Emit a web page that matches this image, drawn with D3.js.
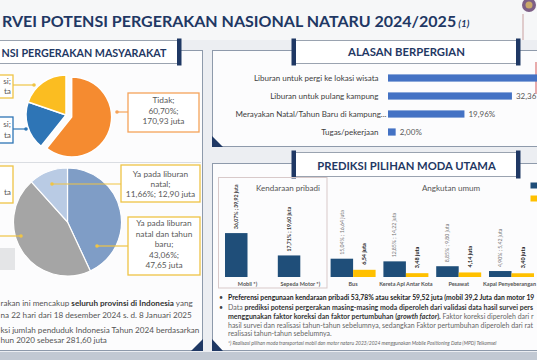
<!DOCTYPE html>
<html><head><meta charset="utf-8">
<script src="https://cdn.jsdelivr.net/npm/d3@7"></script>
<style>html,body{margin:0;padding:0;background:#eef0f3;overflow:hidden}svg{display:block}</style>
</head><body><svg id="c" width="537" height="360"></svg>
<script>
// ---------------- DATA ----------------
const titleVisible = "RVEI POTENSI PERGERAKAN NASIONAL NATARU 2024/2025";
const titleNote = "(1)";
const leftTitleVisible = "NSI PERGERAKAN MASYARAKAT";
const reasonTitle = "ALASAN BERPERGIAN";
const modeTitle = "PREDIKSI PILIHAN MODA UTAMA";

const pie1Cats = ["Tidak", "Ya, dalam provinsi", "Ya, antar provinsi"];
const pie1Pct = [60.70, 19.55, 19.75];
const pie1Juta = [170.93, 55.05, 55.62];

const pie2Cats = ["Ya pada liburan natal dan tahun baru", "Ya pada liburan tahun baru", "Ya pada liburan natal"];
const pie2Pct = [43.06, 45.28, 11.66];
const pie2Juta = [47.65, 50.11, 12.90];

const reasonCats = ["Liburan untuk pergi ke lokasi wisata", "Liburan untuk pulang kampung", "Merayakan Natal/Tahun Baru di kampung...", "Tugas/pekerjaan"];
const reasonPct = [45.68, 32.36, 19.96, 2.00];

const modeGroups = ["Kendaraan pribadi", "Angkutan umum"];
const modeCats = ["Mobil *)", "Sepeda Motor *)", "Bus", "Kereta Api Antar Kota", "Pesawat", "Kapal Penyeberangan"];
const modePct = [36.07, 17.71, 15.04, 12.85, 8.85, 4.90];
const modeJuta = [39.92, 19.60, 16.64, 14.22, 9.80, 5.42];
const modeReal = [null, null, 6.54, 3.48, 4.14, 3.40];

const leftNotes = [
  [["rakan ini mencakup ", false], ["seluruh provinsi di Indonesia", true], [" yang", false]],
  [["na 22 hari dari 18 desember 2024 s. d. 8 Januari 2025", false]],
  [["ksi jumlah penduduk Indonesia Tahun 2024 berdasarkan", false]],
  [["hun 2020 sebesar 281,60 juta", false]]
];
const modeNotes = [
  [["Preferensi pengunaan kendaraan pribadi 53,78% atau sekitar 59,52 juta (mobil 39,2 Juta dan motor 19,6 Juta)", "b"]],
  [["Data ", "n"], ["prediksi potensi pergerakan masing-masing moda diperoleh dari validasi data hasil survei persepsi", "b"]],
  [["menggunakan faktor koreksi dan faktor pertumbuhan (", "b"], ["growth factor", "bi"], [").", "b"], [" Faktor koreksi diperoleh dari rata-rata", "n"]],
  [["hasil survei dan realisasi tahun-tahun sebelumnya, sedangkan Faktor pertumbuhan diperoleh dari rata-rata", "n"]],
  [["realisasi tahun-tahun sebelumnya.", "n"]]
];
const footnote = "*) Realisasi pilihan moda transportasi mobil dan motor nataru 2023/2024 menggunakan Mobile Positioning Data (MPD) Telkomsel";

// ---------------- HELPERS ----------------
const W = 537, H = 360;
const NAVY = "#1f3864";
const FAM = "Lato";
const svg = d3.select("#c").style("font-family", FAM + ", 'Open Sans', sans-serif");
const loc = d3.formatLocale({decimal: ",", thousands: ".", grouping: [3], currency: ["", ""]});
const f2 = loc.format(".2f");
const ctx = document.createElement("canvas").getContext("2d");
function tw(s, size, weight, style) { ctx.font = `${style || "normal"} ${weight || "normal"} ${size}px ${FAM}`; return ctx.measureText(s).width; }
function fit(s, target, weight, style) { return 10 * target / tw(s, 10, weight, style); }
// trim a list of [text, style] segments so the line fits in maxW (the reference cuts it at the page edge)
function trimSegs(segs, size, maxW) {
  const out = [];
  let used = 0;
  for (const [s, st] of segs) {
    const wgt = st.includes("b") ? "bold" : "normal", sty = st.includes("i") ? "italic" : "normal";
    let t = s;
    while (t.length && used + tw(t, size, wgt, sty) > maxW) t = t.slice(0, -1);
    if (t.length) out.push([t, st]);
    used += tw(t, size, wgt, sty);
    if (t.length < s.length) break;
  }
  return out;
}
function trimStr(s, size, maxW, wgt) { let t = s; while (t.length && tw(t, size, wgt) > maxW) t = t.slice(0, -1); return t; }

// ---------------- BACKGROUND ----------------
svg.append("rect").attr("width", W).attr("height", H).attr("fill", "#eceef2");
svg.append("rect").attr("width", W).attr("height", 40).attr("fill", "#f6f7f8");
svg.append("rect").attr("y", 352).attr("width", W).attr("height", 8).attr("fill", "#c2c9d3");

const PSTROKE = "#8e9aab";
svg.append("rect").attr("x", -5).attr("y", 50.5).attr("width", 207.5).attr("height", 300).attr("fill", "#fcfcfd").attr("stroke", PSTROKE);
svg.append("rect").attr("x", 212.5).attr("y", 50.5).attr("width", 330).attr("height", 96).attr("fill", "#fcfcfd").attr("stroke", PSTROKE);
svg.append("rect").attr("x", 212.5).attr("y", 163.5).attr("width", 330).attr("height", 187).attr("fill", "#fcfcfd").attr("stroke", PSTROKE);
svg.append("line").attr("x1", 0).attr("x2", 201).attr("y1", 162.5).attr("y2", 162.5).attr("stroke", "#dadde2");
svg.append("path").attr("d", "M203,339 L203,351 L191,351 Z").attr("fill", NAVY);
svg.append("path").attr("d", "M212,136 L212,147 L223,147 Z").attr("fill", NAVY);
svg.append("path").attr("d", "M212,339 L212,351 L223,351 Z").attr("fill", NAVY);
svg.append("line").attr("x1", 536).attr("x2", 536).attr("y1", 62).attr("y2", 94).attr("stroke", "#d45a5a").attr("stroke-width", 1);

// logo
svg.append("circle").attr("cx", 529).attr("cy", 5).attr("r", 7).attr("fill", "#7d5f86");
svg.append("circle").attr("cx", 529).attr("cy", 5).attr("r", 3.5).attr("fill", "#c9a86a");
svg.append("line").attr("x1", 523).attr("x2", 523).attr("y1", 14).attr("y2", 40).attr("stroke", "#c9a0a0");

// ---------------- TITLES ----------------
const tSize = fit(titleVisible, 455, "bold");
const title = svg.append("text").attr("x", 2).attr("y", 26.5)
  .attr("fill", NAVY).attr("font-weight", "bold").attr("font-size", tSize);
title.append("tspan").text(titleVisible);
title.append("tspan").text(" " + titleNote).attr("font-style", "italic").attr("font-size", tSize * 0.62);

function titleBox(x, y, w, h, leftBar) {
  svg.append("rect").attr("x", x).attr("y", y).attr("width", w).attr("height", h).attr("fill", "#fff").attr("stroke", "#9aa3b0");
  if (leftBar) svg.append("rect").attr("x", x - 1.5).attr("y", y - 2).attr("width", 4.5).attr("height", h + 4).attr("fill", NAVY);
  svg.append("rect").attr("x", x + w - 3).attr("y", y - 2).attr("width", 4.5).attr("height", h + 4).attr("fill", NAVY);
}
titleBox(-10, 40.5, 190, 23, false);
titleBox(293, 40.5, 226, 23, true);
titleBox(293, 152.5, 226, 24, true);

svg.append("text").attr("x", 1.5).attr("y", 56.5)
  .attr("fill", NAVY).attr("font-weight", "bold").attr("font-size", fit(leftTitleVisible, 165, "bold")).text(leftTitleVisible);
svg.append("text").attr("x", 406.5).attr("y", 55.8).attr("text-anchor", "middle")
  .attr("fill", NAVY).attr("font-weight", "bold").attr("font-size", fit(reasonTitle, 117, "bold")).text(reasonTitle);
svg.append("text").attr("x", 406.5).attr("y", 169.8).attr("text-anchor", "middle")
  .attr("fill", NAVY).attr("font-weight", "bold").attr("font-size", fit(modeTitle, 179, "bold")).text(modeTitle);

// ---------------- PIE 1 ----------------
const pieGen = d3.pie().sort(null).startAngle(0).endAngle(2 * Math.PI);
const c1 = [66, 115], r1 = 40;
const arc1 = d3.arc().innerRadius(0).outerRadius(r1);
const pie1Colors = ["#f58b30", "#2e75b6", "#fbbd21"];
const pie1Border = ["#f5a35a", "#2e75b6", "#efc445"];
pieGen(pie1Pct).forEach((a, i) => {
  const off = i === 0 ? 6 : 0, mid = (a.startAngle + a.endAngle) / 2;
  svg.append("path").attr("d", arc1(a))
    .attr("transform", `translate(${c1[0] + Math.sin(mid) * off},${c1[1] - Math.cos(mid) * off})`)
    .attr("fill", pie1Colors[i]).attr("stroke", "#fff").attr("stroke-width", 1.5);
});
function connector(x1, x2, y, col) {
  svg.append("line").attr("x1", x1).attr("x2", x2).attr("y1", y).attr("y2", y).attr("stroke", col).attr("stroke-width", 1.2);
  svg.append("circle").attr("cx", x1).attr("cy", y).attr("r", 1.8).attr("fill", col);
}
function labelBox(x, y, w, h, col) {
  svg.append("rect").attr("x", x).attr("y", y).attr("width", w).attr("height", h).attr("fill", "#fff").attr("stroke", col).attr("stroke-width", 1.3);
}
function lines(x, ys, arr, anchor, size) {
  arr.forEach((s, k) => { if (s) svg.append("text").attr("x", x).attr("y", ys[k]).attr("text-anchor", anchor)
    .attr("font-size", size).attr("fill", "#595959").text(s); });
}
const lblSize = fit("170,93 juta", 42);
// only the right-hand end of the left-edge labels is visible in the reference
const tail = (s, n) => s.slice(-n);
connector(117, 128, 112, pie1Border[0]);
labelBox(128, 93, 71, 39, pie1Border[0]);
lines(163.5, [103, 113.5, 124], [pie1Cats[0] + ";", f2(pie1Pct[0]) + "%;", f2(pie1Juta[0]) + " juta"], "middle", lblSize);
connector(34, 13, 85, pie1Border[2]);
labelBox(-70, 75, 83, 23, pie1Border[2]);
lines(11, [84, 94], [tail(pie1Cats[2] + ";", 3), tail(f2(pie1Juta[2]) + " juta", 2)], "end", lblSize);
connector(26, 13, 129, pie1Border[1]);
labelBox(-70, 117, 83, 26, pie1Border[1]);
lines(11, [127, 137.5], [tail(pie1Cats[1] + ";", 3), tail(f2(pie1Juta[1]) + " juta", 2)], "end", lblSize);

// ---------------- PIE 2 ----------------
const c2 = [67.5, 222], r2 = 54;
const arc2 = d3.arc().innerRadius(0).outerRadius(r2);
const pie2Colors = ["#7f9dc6", "#a5a5a5", "#b9cbe4"];
pieGen(pie2Pct).forEach((a, i) => {
  svg.append("path").attr("d", arc2(a)).attr("transform", `translate(${c2[0]},${c2[1]})`)
    .attr("fill", pie2Colors[i]).attr("stroke", "#fff").attr("stroke-width", 1.2);
});
const YB = "#efc445";
svg.append("rect").attr("x", -2).attr("y", 248).attr("width", 17).attr("height", 22).attr("fill", "#e4e5e7");
connector(52, 121, 184, YB);
labelBox(121, 165, 79, 37, YB);
lines(160.5, [177, 186.5, 196.5], ["Ya pada liburan", "natal;", f2(pie2Pct[2]) + "%; " + f2(pie2Juta[2]) + " juta"], "middle", lblSize);
connector(97, 128, 246, YB);
labelBox(128, 217, 72, 58, YB);
lines(164, [226, 236.5, 247, 257.5, 268], ["Ya pada liburan", "natal dan tahun", "baru;", f2(pie2Pct[0]) + "%;", f2(pie2Juta[0]) + " juta"], "middle", lblSize);
labelBox(-80, 166, 93, 37, YB);
lines(11, [176, 185.5, 195], ["", "", tail(f2(pie2Juta[1]) + " juta", 2)], "end", lblSize);
connector(21, -2, 236, YB);

// left notes
const lnSize = fit(leftNotes[1][0][0], 192);
[306, 317.5, 333, 342.5].forEach((y, i) => {
  const t = svg.append("text").attr("x", 0.5).attr("y", y).attr("font-size", lnSize).attr("fill", "#555");
  leftNotes[i].forEach(([s, b]) => t.append("tspan").text(s).attr("font-weight", b ? "bold" : "normal").attr("fill", b ? "#333" : "#555"));
});

// ---------------- REASONS BAR ----------------
const xr = d3.scaleLinear().domain([0, 100]).range([388, 771]);
const yr = d3.scaleBand().domain(reasonCats).range([69, 141]).paddingInner(0.6).paddingOuter(0.3);
const rcSize = fit(reasonCats[0], 125);
reasonCats.forEach((c, i) => {
  const yc = yr(c) + yr.bandwidth() / 2;
  svg.append("rect").attr("x", xr(0)).attr("y", yr(c)).attr("width", xr(reasonPct[i]) - xr(0)).attr("height", yr.bandwidth()).attr("fill", "#4472c4");
  svg.append("text").attr("x", c.endsWith("...") ? 386.5 : 378.5).attr("y", yc + 2.8).attr("text-anchor", "end")
    .attr("font-size", rcSize).attr("fill", "#404040").text(c);
  const lx = xr(reasonPct[i]) + 4;
  const lab = trimStr(f2(reasonPct[i]) + "%", rcSize, W - lx);
  if (lab) svg.append("text").attr("x", lx).attr("y", yc + 2.8)
    .attr("font-size", rcSize).attr("fill", "#595959").text(lab);
});

// ---------------- MODE BARS ----------------
svg.append("rect").attr("x", 218.5).attr("y", 177.5).attr("width", 108.5).attr("height", 110.5).attr("fill", "none").attr("stroke", "#d8c9c9");
const gSize = fit(modeGroups[0], 64);
svg.append("text").attr("x", 288).attr("y", 191).attr("text-anchor", "middle").attr("font-size", gSize).attr("fill", "#555").text(modeGroups[0]);
svg.append("text").attr("x", 451).attr("y", 191).attr("text-anchor", "middle").attr("font-size", gSize).attr("fill", "#555").text(modeGroups[1]);

const xm = d3.scaleBand().domain(modeCats).range([221.1, 537.9]).paddingInner(0.148).paddingOuter(0.074);
const xs = d3.scaleBand().domain(["pred", "real"]).range([0, xm.bandwidth()]);
const ym = d3.scaleLinear().domain([0, 40]).range([277, 233]);
const catSize = fit("Kereta Api Antar Kota", 54, "bold");
const vSize = 5.2;
modeCats.forEach((c, i) => {
  const x0 = xm(c) + xs("pred"), bw = xs.bandwidth();
  svg.append("rect").attr("x", x0).attr("y", ym(modeJuta[i])).attr("width", bw).attr("height", ym(0) - ym(modeJuta[i])).attr("fill", "#1f4e79");
  const priv = i < 2;
  svg.append("text").attr("transform", `translate(${x0 + bw / 2 + vSize * 0.35},${ym(modeJuta[i]) - 4}) rotate(-90)`)
    .attr("font-size", vSize).attr("font-weight", priv ? "bold" : "normal").attr("fill", priv ? "#333" : "#777")
    .text(f2(modePct[i]) + "% ; " + f2(modeJuta[i]) + " juta");
  if (modeReal[i] != null) {
    const x1 = xm(c) + xs("real");
    svg.append("rect").attr("x", x1).attr("y", ym(modeReal[i])).attr("width", bw).attr("height", ym(0) - ym(modeReal[i])).attr("fill", "#ffc000");
    svg.append("text").attr("transform", `translate(${x1 + bw / 2 + vSize * 0.35},${ym(modeReal[i]) - 5}) rotate(-90)`)
      .attr("font-size", vSize + 0.3).attr("font-weight", "bold").attr("fill", "#222")
      .text(f2(modeReal[i]) + " juta");
  }
  const cx = Math.min(xm(c) + xm.bandwidth() / 2, W - 1 - tw(c, catSize, "bold") / 2);
  svg.append("text").attr("x", cx).attr("y", 286).attr("text-anchor", "middle")
    .attr("font-size", catSize).attr("font-weight", "bold").attr("fill", "#555").text(c);
});
// legend keys (their labels lie beyond the right edge in the reference)
["#1f4e79", "#ffc000"].forEach((col, i) => {
  svg.append("rect").attr("x", 530.5).attr("y", 182.5 + i * 13).attr("width", 8).attr("height", 6).attr("fill", col);
});

// mode notes
const nSize = fit(modeNotes[3][0][0].slice(0, 99), 309);
const b1Size = fit("Preferensi pengunaan kendaraan pribadi 53,78% atau sekitar 59,52 juta (mobil 39,2 Juta dan motor 19,", 309, "bold");
const noteYs = [300, 309.5, 319, 327.8, 335.6];
noteYs.forEach((y, i) => {
  if (i < 2) svg.append("text").attr("x", 219).attr("y", y).attr("font-size", 7).attr("fill", "#444").text("•");
  const size = i === 0 ? b1Size : nSize;
  const t = svg.append("text").attr("x", 228).attr("y", y).attr("font-size", size);
  trimSegs(modeNotes[i], size, W - 229).forEach(([s, st]) => t.append("tspan").text(s)
    .attr("font-weight", st.includes("b") ? "bold" : "normal")
    .attr("font-style", st.includes("i") ? "italic" : "normal")
    .attr("fill", i === 0 ? "#222" : (st.includes("b") ? "#333" : "#666")));
});
svg.append("text").attr("x", 228).attr("y", 345).attr("font-size", fit(footnote, 269, "normal", "italic"))
  .attr("font-style", "italic").attr("fill", "#666").text(footnote);
</script></body></html>
